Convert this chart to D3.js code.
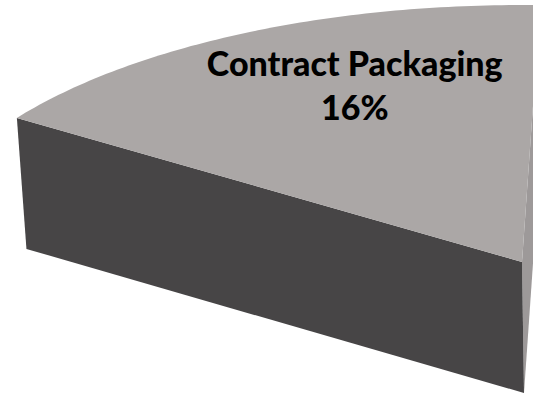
<!DOCTYPE html>
<html>
<head>
<meta charset="utf-8">
<script src="https://cdn.jsdelivr.net/npm/d3@7"></script>
<style>
  html, body { margin: 0; padding: 0; background: #ffffff; }
  svg { display: block; }
</style>
</head>
<body>
<svg id="chart" width="533" height="396"></svg>
<script>
// ---- data ----
const categories = ["Contract Packaging", "Other"];
const values = [16, 84];
const labels = ["Contract Packaging", "16%"];
const shownCategory = "Contract Packaging";

// ---- layout ----
const W = 533, H = 396;
const cx = 522, cy = 262;      // pie centre (top face)
const rx = 610, ry = 257;      // ellipse radii
const depth = 131;             // slice thickness
const bottomScale = 0.985, bottomShift = 2;
const startDeg = -55.9;        // d3 pie start angle (deg, from 12 o'clock)

const colTop = "#aba7a6", colFront = "#474546", colSide = "#9d9999";

const svg = d3.select("#chart");

const pie = d3.pie().sort(null)
  .startAngle(startDeg * Math.PI / 180)
  .endAngle(startDeg * Math.PI / 180 + 2 * Math.PI);
const arcs = pie(values).map((a, i) => Object.assign(a, { cat: categories[i] }));

const xs = d3.scaleLinear().domain([-1, 1]).range([cx - rx, cx + rx]);
const ys = d3.scaleLinear().domain([-1, 1]).range([cy - ry, cy + ry]);

function topPt(theta) { return [xs(Math.sin(theta)), ys(-Math.cos(theta))]; }
function botPt(p) { return [cx + bottomShift + (p[0] - cx) * bottomScale, p[1] + depth]; }

const line = d3.line();
const g = svg.append("g");

arcs.filter(a => a.cat === shownCategory).forEach(a => {
  const c = [cx, cy];
  const s = topPt(a.startAngle), e = topPt(a.endAngle);
  const cb = botPt(c), sb = botPt(s), eb = botPt(e);

  // side cut face (end angle)
  g.append("path").attr("d", line([c, e, eb, cb]) + "Z").attr("fill", colSide);
  // front cut face (start angle)
  g.append("path").attr("d", line([c, s, sb, cb]) + "Z").attr("fill", colFront);
  // top face
  const n = 80;
  const pts = [c].concat(d3.range(n + 1).map(i =>
    topPt(a.startAngle + (a.endAngle - a.startAngle) * i / n)));
  g.append("path").attr("d", line(pts) + "Z").attr("fill", colTop);

  // label
  const mid = (a.startAngle + a.endAngle) / 2 + 5 * Math.PI / 180;
  const rf = 0.72;
  const lx = xs(rf * Math.sin(mid)) - 2, ly = ys(-rf * Math.cos(mid));
  const t = g.append("text")
    .attr("x", lx).attr("y", ly)
    .attr("text-anchor", "middle")
    .attr("font-family", "Lato, 'Open Sans', sans-serif")
    .attr("font-weight", "900")
    .attr("font-size", 34)
    .attr("fill", "#000");
  t.append("tspan").attr("x", lx).attr("dy", "-0.42em").text(labels[0]);
  t.append("tspan").attr("x", lx).attr("dy", "1.3em").text(labels[1]);
});
</script>
</body>
</html>
